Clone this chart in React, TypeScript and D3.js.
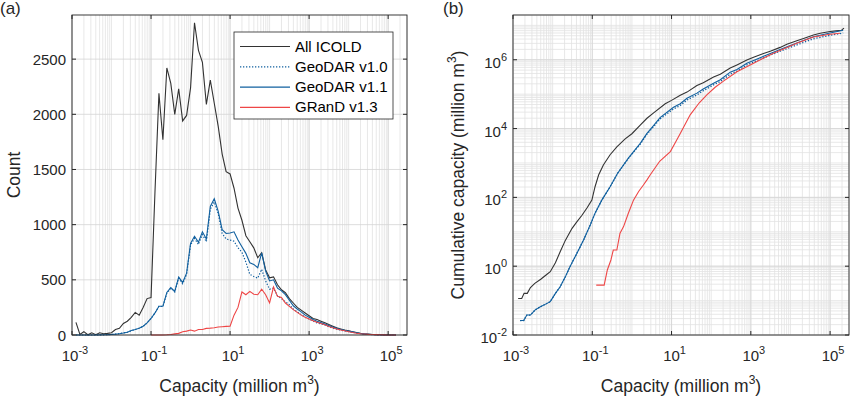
import React from 'react';
import * as d3 from 'd3';

// ---------- Panel (a): histogram counts, bin centres as log10(capacity) ----------
const binLog = [
  -2.9, -2.8, -2.7, -2.6, -2.5, -2.4, -2.3, -2.2, -2.1, -2.0,
  -1.9, -1.8, -1.7, -1.6, -1.5, -1.4, -1.3, -1.2, -1.1, -1.0,
  -0.9, -0.8, -0.7, -0.6, -0.5, -0.4, -0.3, -0.2, -0.1, 0.0,
  0.1, 0.2, 0.3, 0.4, 0.5, 0.6, 0.7, 0.8, 0.9, 1.0,
  1.1, 1.2, 1.3, 1.4, 1.5, 1.6, 1.7, 1.8, 1.9, 2.0,
  2.1, 2.2, 2.3, 2.4, 2.5, 2.6, 2.7, 2.8, 2.9, 3.0,
  3.1, 3.2, 3.3, 3.4, 3.5, 3.6, 3.7, 3.8, 3.9, 4.0,
  4.1, 4.2, 4.3, 4.4, 4.5, 4.6, 4.7, 4.8, 4.9, 5.0,
  5.1, 5.2,
];

const countICOLD = [
  115, 5, 30, 2, 20, 3, 20, 12, 15, 20,
  50, 60, 105, 125, 160, 205, 180, 250, 330, 340,
  1300, 2190, 1770, 2420, 2280, 2000, 2230, 1940, 1990, 2240,
  2830, 2580, 2470, 2090, 2310, 2100, 1890, 1640, 1480, 1460,
  1330, 1150, 1040, 900, 845, 790, 700, 745, 590, 518,
  527, 455, 410, 383, 330, 290, 250, 225, 200, 175,
  150, 140, 125, 110, 95, 80, 65, 55, 45, 38,
  30, 22, 15, 10, 8, 5, 3, 2, 1, 0,
  0, 0,
];

const countGeoDAR10 = [
  0, 0, 0, 0, 0, 0, 1, 2, 3, 5,
  8, 12, 18, 25, 38, 50, 62, 78, 110, 150,
  200, 260, 258, 380, 425, 390, 515, 465, 550, 815,
  875, 820, 910, 845, 1140, 1205, 1100, 920, 870, 860,
  850, 790, 750, 660, 550, 530, 515, 595, 490, 415,
  425, 355, 330, 300, 275, 235, 210, 185, 160, 145,
  125, 110, 100, 90, 75, 62, 52, 44, 36, 30,
  24, 17, 12, 8, 5, 3, 2, 1, 1, 0,
  0, 0,
];

const countGeoDAR11 = [
  0, 0, 0, 0, 0, 0, 1, 2, 3, 5,
  8, 12, 18, 25, 40, 50, 62, 80, 110, 150,
  200, 260, 260, 385, 430, 395, 525, 475, 560, 830,
  895, 840, 935, 870, 1165, 1235, 1120, 955, 920, 925,
  935, 860, 800, 740, 655, 640, 610, 745, 580, 490,
  500, 425, 400, 365, 315, 265, 235, 210, 180, 160,
  140, 125, 112, 100, 85, 72, 60, 50, 42, 35,
  28, 20, 14, 10, 7, 4, 3, 2, 1, 0,
  0, 0,
];

// GRanD starts at bin -1.0 (index 19)
const grandStart = 19;
const countGRanD = [
  0, 0, 0, 0, 2, 5, 10, 15, 30, 35,
  45, 35, 50, 50, 60, 62, 65, 72, 75, 78,
  80, 180, 250, 390, 365, 395, 370, 365, 415, 365,
  290, 435, 350, 340, 290, 260, 230, 205, 180, 160,
  145, 130, 115, 105, 92, 78, 65, 55, 45, 38,
  30, 22, 16, 12, 9, 6, 4, 3, 2, 1,
  0, 0, 0,
];

// ---------- Panel (b): cumulative capacity (log10 x, log10 y) ----------
const cumICOLDx = [-2.87, -2.78, -2.72, -2.64, -2.56, -2.45, -2.30, -2.15, -2.06, -1.93, -1.81, -1.68, -1.51, -1.39, -1.26, -1.13, -1.01, -0.93, -0.84, -0.72, -0.55, -0.38, -0.17, 0.0, 0.21, 0.38, 0.54, 0.84, 1.0, 1.22, 1.39, 1.64, 1.80, 2.06, 2.23, 2.48, 2.65, 2.90, 3.07, 3.32, 3.49, 3.74, 3.91, 4.16, 4.33, 4.58, 4.75, 5.00, 5.15, 5.29, 5.35];
const cumICOLDy = [-0.94, -0.94, -0.79, -0.79, -0.62, -0.50, -0.38, -0.24, -0.16, 0.10, 0.42, 0.75, 1.10, 1.29, 1.48, 1.70, 1.92, 2.31, 2.65, 2.94, 3.24, 3.47, 3.70, 3.85, 4.10, 4.30, 4.45, 4.72, 4.82, 4.97, 5.06, 5.25, 5.33, 5.50, 5.58, 5.76, 5.85, 5.99, 6.07, 6.18, 6.25, 6.36, 6.45, 6.55, 6.62, 6.72, 6.77, 6.82, 6.84, 6.86, 6.92];

const cumGeoDAR11x = [-2.82, -2.73, -2.65, -2.56, -2.44, -2.31, -2.19, -2.06, -1.93, -1.81, -1.68, -1.56, -1.39, -1.22, -1.05, -0.93, -0.76, -0.55, -0.36, -0.09, 0.21, 0.38, 0.54, 0.71, 1.05, 1.22, 1.39, 1.64, 1.80, 2.06, 2.23, 2.48, 2.65, 2.90, 3.07, 3.40, 3.74, 4.16, 4.58, 5.00, 5.33];
const cumGeoDAR11y = [-1.58, -1.58, -1.42, -1.42, -1.27, -1.18, -1.11, -1.03, -0.79, -0.60, -0.31, -0.01, 0.37, 0.76, 1.20, 1.54, 1.92, 2.31, 2.70, 3.14, 3.57, 3.86, 4.08, 4.32, 4.62, 4.72, 4.88, 5.03, 5.15, 5.32, 5.42, 5.64, 5.72, 5.90, 5.98, 6.14, 6.30, 6.49, 6.67, 6.78, 6.86];

const cumGeoDAR10x = [-2.82, -2.73, -2.65, -2.56, -2.44, -2.31, -2.19, -2.06, -1.93, -1.81, -1.68, -1.56, -1.39, -1.22, -1.05, -0.93, -0.76, -0.55, -0.36, -0.09, 0.21, 0.38, 0.54, 0.71, 1.05, 1.22, 1.39, 1.64, 1.80, 2.06, 2.23, 2.48, 2.65, 2.90, 3.07, 3.40, 3.74, 4.16, 4.58, 5.00, 5.33];
const cumGeoDAR10y = [-1.58, -1.58, -1.42, -1.42, -1.27, -1.18, -1.11, -1.03, -0.79, -0.60, -0.31, -0.01, 0.37, 0.76, 1.20, 1.54, 1.92, 2.31, 2.70, 3.13, 3.55, 3.84, 4.05, 4.28, 4.57, 4.67, 4.83, 4.98, 5.10, 5.27, 5.37, 5.58, 5.67, 5.85, 5.93, 6.09, 6.25, 6.43, 6.61, 6.71, 6.78];

const cumGRanDx = [-0.90, -0.70, -0.62, -0.53, -0.47, -0.38, -0.30, -0.21, -0.09, 0.04, 0.17, 0.29, 0.38, 0.46, 0.70, 0.97, 1.10, 1.22, 1.47, 1.70, 1.89, 2.10, 2.31, 2.65, 3.07, 3.57, 4.16, 4.58, 5.00, 5.25];
const cumGRanDy = [-0.55, -0.55, -0.11, 0.18, 0.47, 0.47, 0.96, 1.15, 1.54, 1.92, 2.17, 2.36, 2.51, 2.65, 3.05, 3.33, 3.60, 3.86, 4.40, 4.75, 4.98, 5.20, 5.38, 5.65, 5.90, 6.19, 6.48, 6.66, 6.74, 6.77];

const xTickExp = [-3, -1, 1, 3, 5];
const yTickCounts = [0, 500, 1000, 1500, 2000, 2500];
const yTickExpB = [-2, 0, 2, 4, 6];

const seriesNames = ['All ICOLD', 'GeoDAR v1.0', 'GeoDAR v1.1', 'GRanD v1.3'];

const C_BLACK = '#333333';
const C_BLUE = '#11609f';
const C_RED = '#ee4646';
const AXIS = '#262626';
const FONT = '"Liberation Sans", Arial, Helvetica, sans-serif';

function PowLabel({ x, y, exp, anchor }: { x: number; y: number; exp: number; anchor: string }) {
  return (
    <text x={x} y={y} textAnchor={anchor} fontSize={15} fill={AXIS} fontFamily={FONT}>
      <tspan>10</tspan>
      <tspan dy={-7} fontSize={11}>{String(exp)}</tspan>
    </text>
  );
}

export default function App() {
  const A = { l: 72, r: 407, t: 15, b: 335 };
  const B = { l: 513, r: 849, t: 15, b: 335 };

  const xA = d3.scaleLog().domain([1e-3, 3e5]).range([A.l, A.r]);
  const yA = d3.scaleLinear().domain([0, 2900]).range([A.b, A.t]);
  const xB = d3.scaleLog().domain([1e-3, 3e5]).range([B.l, B.r]);
  const yB = d3.scaleLog().domain([1e-2, 2e7]).range([B.b, B.t]);

  const minorX: number[] = [];
  for (let k = -3; k <= 5; k++) {
    for (let m = 1; m <= 9; m++) {
      const v = m * Math.pow(10, k);
      if (v <= 3e5) minorX.push(v);
    }
  }
  const minorYB: number[] = [];
  for (let k = -2; k <= 7; k++) {
    for (let m = 1; m <= 9; m++) {
      const v = m * Math.pow(10, k);
      if (v <= 2e7) minorYB.push(v);
    }
  }

  const lineA = (vals: number[], start: number) =>
    d3
      .line<number>()
      .x((_, i) => xA(Math.pow(10, binLog[start + i])))
      .y((v) => yA(v))(vals) || '';

  const lineB = (xs: number[], ys: number[]) =>
    d3
      .line<number>()
      .x((v) => xB(Math.pow(10, v)))
      .y((_, i) => yB(Math.pow(10, ys[i])))(xs) || '';

  const minorGrid = '#e2e2e2';
  const majorGrid = '#d4d4d4';
  const tl = 4;

  const legend = { x: 234, y: 32, w: 159, h: 87 };
  const legendItems = [
    { name: seriesNames[0], color: C_BLACK, dash: undefined as string | undefined },
    { name: seriesNames[1], color: C_BLUE, dash: '1.3 1.7' },
    { name: seriesNames[2], color: C_BLUE, dash: undefined },
    { name: seriesNames[3], color: C_RED, dash: undefined },
  ];

  return (
    <svg
      width={850}
      height={398}
      style={{ position: 'absolute', left: 0, top: 0, display: 'block', background: '#fff' }}
      fontFamily={FONT}
    >
      <rect x={0} y={0} width={850} height={398} fill="#fff" />

      {/* ---------------- Panel (a) ---------------- */}
      <g>
        {minorX.map((v, i) => (
          <line key={'am' + i} x1={xA(v)} x2={xA(v)} y1={A.t} y2={A.b} stroke={minorGrid} strokeWidth={0.8} />
        ))}
        {xTickExp.map((e) => (
          <line key={'aM' + e} x1={xA(Math.pow(10, e))} x2={xA(Math.pow(10, e))} y1={A.t} y2={A.b} stroke={majorGrid} strokeWidth={0.8} />
        ))}
        {yTickCounts.map((v) => (
          <line key={'ay' + v} x1={A.l} x2={A.r} y1={yA(v)} y2={yA(v)} stroke={majorGrid} strokeWidth={0.8} />
        ))}

        <path d={lineA(countICOLD, 0)} fill="none" stroke={C_BLACK} strokeWidth={1.1} />
        <path d={lineA(countGeoDAR10, 0)} fill="none" stroke={C_BLUE} strokeWidth={1.2} strokeDasharray="1.3 1.7" />
        <path d={lineA(countGeoDAR11, 0)} fill="none" stroke={C_BLUE} strokeWidth={1.1} />
        <path d={lineA(countGRanD, grandStart)} fill="none" stroke={C_RED} strokeWidth={1.1} />

        <rect x={A.l} y={A.t} width={A.r - A.l} height={A.b - A.t} fill="none" stroke={AXIS} strokeWidth={0.9} />
        {xTickExp.map((e) => {
          const x = xA(Math.pow(10, e));
          return (
            <g key={'axt' + e}>
              <line x1={x} x2={x} y1={A.b} y2={A.b - tl} stroke={AXIS} />
              <line x1={x} x2={x} y1={A.t} y2={A.t + tl} stroke={AXIS} />
              <PowLabel x={x + 3} y={361} exp={e} anchor="middle" />
            </g>
          );
        })}
        {yTickCounts.map((v) => {
          const y = yA(v);
          return (
            <g key={'ayt' + v}>
              <line x1={A.l} x2={A.l + tl} y1={y} y2={y} stroke={AXIS} />
              <line x1={A.r} x2={A.r - tl} y1={y} y2={y} stroke={AXIS} />
              <text x={A.l - 6} y={y + 5.5} textAnchor="end" fontSize={15} fill={AXIS}>
                {v}
              </text>
            </g>
          );
        })}
        <text x={(A.l + A.r) / 2} y={392} textAnchor="middle" fontSize={17.5} fill={AXIS}>
          <tspan>Capacity (million m</tspan>
          <tspan dy={-8} fontSize={12}>3</tspan>
          <tspan dy={8}>)</tspan>
        </text>
        <text transform={`translate(20,${(A.t + A.b) / 2}) rotate(-90)`} textAnchor="middle" fontSize={17.5} fill={AXIS}>
          Count
        </text>
        <text x={0} y={14} fontSize={17} fill={AXIS}>(a)</text>

        {/* legend */}
        <rect x={legend.x} y={legend.y} width={legend.w} height={legend.h} fill="#fff" stroke={AXIS} strokeWidth={0.8} />
        {legendItems.map((it, i) => {
          const by = 51.5 + i * 20.3;
          return (
            <g key={'lg' + i}>
              <line x1={240} x2={290} y1={by - 5} y2={by - 5} stroke={it.color} strokeWidth={1.2} strokeDasharray={it.dash} />
              <text x={295} y={by} fontSize={15} fill="#000">
                {it.name}
              </text>
            </g>
          );
        })}
      </g>

      {/* ---------------- Panel (b) ---------------- */}
      <g>
        {minorX.map((v, i) => (
          <line key={'bm' + i} x1={xB(v)} x2={xB(v)} y1={B.t} y2={B.b} stroke={minorGrid} strokeWidth={0.8} />
        ))}
        {minorYB.map((v, i) => (
          <line key={'bmy' + i} x1={B.l} x2={B.r} y1={yB(v)} y2={yB(v)} stroke={minorGrid} strokeWidth={0.8} />
        ))}
        {xTickExp.map((e) => (
          <line key={'bM' + e} x1={xB(Math.pow(10, e))} x2={xB(Math.pow(10, e))} y1={B.t} y2={B.b} stroke={majorGrid} strokeWidth={0.8} />
        ))}
        {yTickExpB.map((e) => (
          <line key={'bMy' + e} x1={B.l} x2={B.r} y1={yB(Math.pow(10, e))} y2={yB(Math.pow(10, e))} stroke={majorGrid} strokeWidth={0.8} />
        ))}

        <path d={lineB(cumICOLDx, cumICOLDy)} fill="none" stroke={C_BLACK} strokeWidth={1.1} />
        <path d={lineB(cumGeoDAR10x, cumGeoDAR10y)} fill="none" stroke={C_BLUE} strokeWidth={1.3} strokeDasharray="1.3 1.7" />
        <path d={lineB(cumGeoDAR11x, cumGeoDAR11y)} fill="none" stroke={C_BLUE} strokeWidth={1.1} />
        <path d={lineB(cumGRanDx, cumGRanDy)} fill="none" stroke={C_RED} strokeWidth={1.1} />

        <rect x={B.l} y={B.t} width={B.r - B.l} height={B.b - B.t} fill="none" stroke={AXIS} strokeWidth={0.9} />
        {xTickExp.map((e) => {
          const x = xB(Math.pow(10, e));
          return (
            <g key={'bxt' + e}>
              <line x1={x} x2={x} y1={B.b} y2={B.b - tl} stroke={AXIS} />
              <line x1={x} x2={x} y1={B.t} y2={B.t + tl} stroke={AXIS} />
              <PowLabel x={x + 3} y={361} exp={e} anchor="middle" />
            </g>
          );
        })}
        {yTickExpB.map((e) => {
          const y = yB(Math.pow(10, e));
          return (
            <g key={'byt' + e}>
              <line x1={B.l} x2={B.l + tl} y1={y} y2={y} stroke={AXIS} />
              <line x1={B.r} x2={B.r - tl} y1={y} y2={y} stroke={AXIS} />
              <PowLabel x={B.l - 6} y={y + 8} exp={e} anchor="end" />
            </g>
          );
        })}
        <text x={(B.l + B.r) / 2} y={392} textAnchor="middle" fontSize={17.5} fill={AXIS}>
          <tspan>Capacity (million m</tspan>
          <tspan dy={-8} fontSize={12}>3</tspan>
          <tspan dy={8}>)</tspan>
        </text>
        <text transform={`translate(464,${(B.t + B.b) / 2}) rotate(-90)`} textAnchor="middle" fontSize={17.5} fill={AXIS}>
          <tspan>Cumulative capacity (million m</tspan>
          <tspan dy={-8} fontSize={12}>3</tspan>
          <tspan dy={8}>)</tspan>
        </text>
        <text x={443} y={14} fontSize={17} fill={AXIS}>(b)</text>
      </g>
    </svg>
  );
}
